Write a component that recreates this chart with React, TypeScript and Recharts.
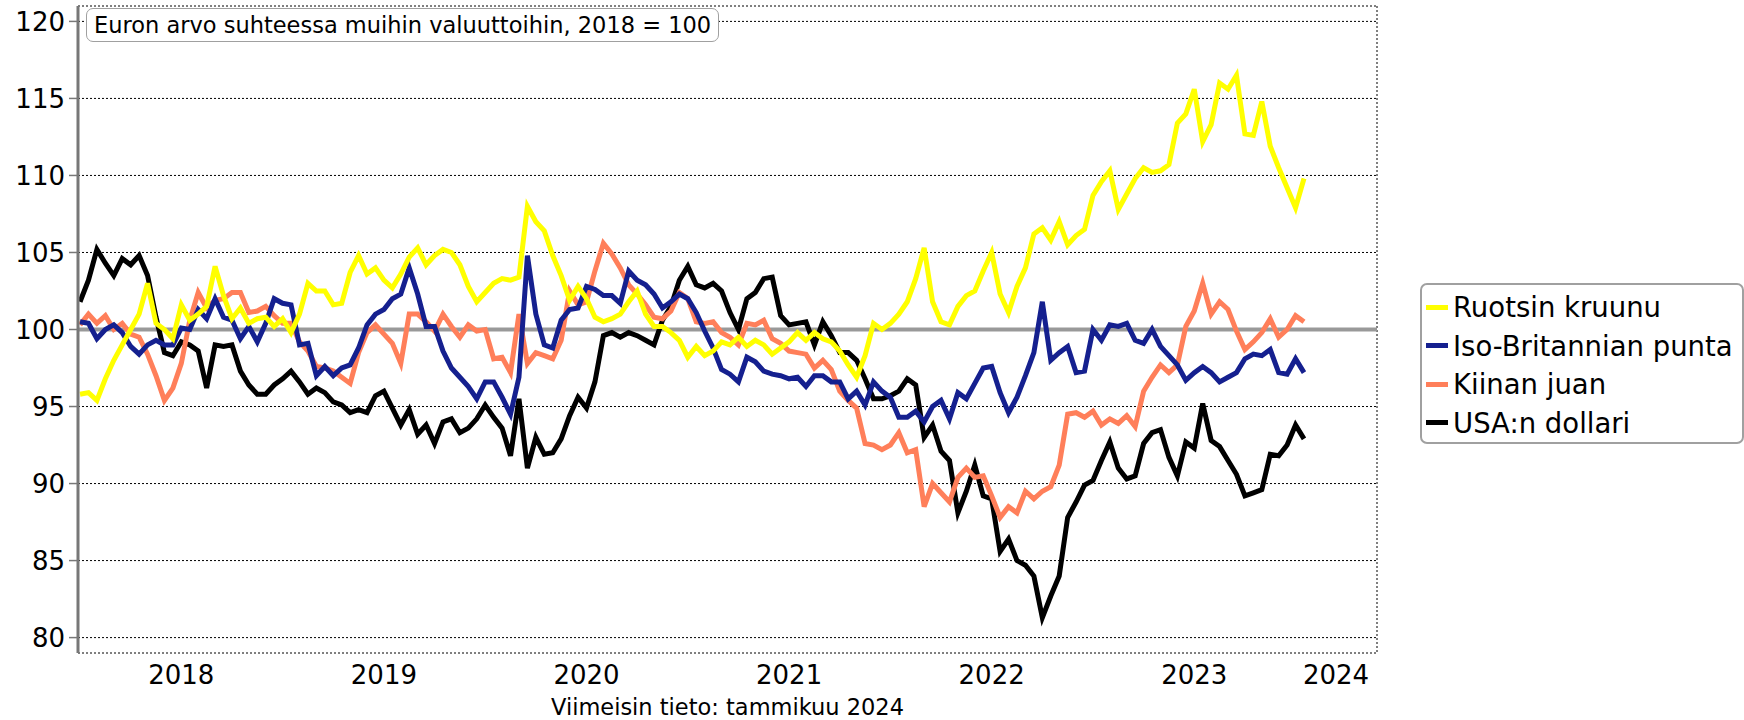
import { LineChart, Line, XAxis, YAxis, CartesianGrid, ReferenceLine, Legend } from "recharts";

const FONT = "'DejaVu Sans', Verdana, sans-serif";

// havainnot puolen kuukauden välein, tammikuu 2018 – tammikuu 2024
const periods = Array.from({ length: 146 }, (_, i) => 2018 + i / 24);

const sek = [
  95.8, 95.9, 95.4, 96.8, 98.0, 99.0, 100.0, 101.0, 103.0, 100.4, 100.0, 99.4, 101.6, 100.6, 101.0, 101.5, 104.1, 102.2, 100.7, 101.4,
  100.4, 100.7, 100.8, 100.2, 100.7, 99.8, 101.0, 103.0, 102.5, 102.5, 101.6, 101.7, 103.7, 104.8, 103.6, 104.0, 103.2, 102.7, 103.6, 104.7,
  105.3, 104.2, 104.8, 105.2, 105.0, 104.2, 102.8, 101.8, 102.4, 103.0, 103.3, 103.2, 103.4, 108.0, 107.0, 106.4, 104.8, 103.5, 101.9, 102.8,
  102.0, 100.8, 100.5, 100.7, 101.0, 101.8, 102.5, 101.0, 100.2, 100.2, 99.8, 99.3, 98.2, 98.9, 98.3, 98.6, 99.2, 99.0, 99.5,
  98.9, 99.3, 99.0, 98.4, 98.8, 99.2, 99.8, 99.3, 99.8, 99.4, 99.2, 98.6, 97.7, 96.9, 98.3, 100.4, 100.0, 100.4, 101.0, 101.8,
  103.3, 105.3, 101.8, 100.5, 100.3, 101.5, 102.2, 102.5, 103.8, 105.0, 102.3, 101.1, 102.8, 104.0, 106.2, 106.6, 105.8, 107.0, 105.5,
  106.1, 106.5, 108.7, 109.6, 110.3, 107.8, 108.8, 109.8, 110.5, 110.2, 110.3, 110.7, 113.4, 114.0, 115.6, 112.2, 113.3, 116.0, 115.6, 116.5,
  112.7, 112.6, 114.8, 111.9, 110.5, 109.2, 107.9, 109.8,
];

const gbp = [
  100.5, 100.4, 99.4, 100.0, 100.3, 99.8, 98.9, 98.4, 99.0, 99.3, 99.0, 99.0, 100.1, 100.0, 101.3, 100.7, 102.0, 100.8, 100.6, 99.4,
  100.2, 99.2, 100.4, 102.0, 101.7, 101.6, 99.0, 99.1, 97.0, 97.6, 97.0, 97.5, 97.7, 98.8, 100.3, 101.0, 101.3, 102.0, 102.3, 104.0,
  102.3, 100.2, 100.2, 98.6, 97.5, 96.9, 96.3, 95.5, 96.6, 96.6, 95.6, 94.5, 96.9, 104.8, 101.0, 99.0, 98.8, 100.6, 101.3, 101.4,
  102.8, 102.6, 102.2, 102.2, 101.7, 103.8, 103.2, 102.9, 102.3, 101.4, 101.8, 102.3, 102.0, 101.1, 99.9, 98.8, 97.4, 97.1, 96.6,
  98.2, 97.9, 97.3, 97.1, 97.0, 96.8, 96.9, 96.3, 97.0, 97.0, 96.6, 96.6, 95.5, 96.0, 95.1, 96.6, 96.0, 95.6, 94.3, 94.3,
  94.7, 94.0, 95.0, 95.4, 94.2, 95.9, 95.5, 96.5, 97.5, 97.6, 95.9, 94.6, 95.6, 97.0, 98.5, 101.8, 98.0, 98.5, 98.9,
  97.2, 97.3, 100.0, 99.3, 100.3, 100.2, 100.4, 99.3, 99.1, 100.0, 98.9, 98.3, 97.7, 96.7, 97.2, 97.6, 97.2, 96.6, 96.9, 97.2,
  98.1, 98.4, 98.3, 98.7, 97.2, 97.1, 98.1, 97.2,
];

const cny = [
  100.3, 101.0, 100.4, 100.9, 100.0, 100.4, 99.7, 99.5, 98.4, 97.0, 95.4, 96.2, 97.8, 100.6, 102.4, 101.4, 101.9, 102.0, 102.4, 102.4,
  101.1, 101.2, 101.5, 100.9, 100.4, 100.4, 99.2, 98.6, 97.6, 97.5, 97.3, 96.9, 96.5, 98.5, 99.8, 100.3, 99.7, 99.1, 97.8, 101.0,
  101.0, 100.5, 99.9, 101.0, 100.2, 99.5, 100.3, 99.9, 100.0, 98.1, 98.2, 97.2, 101.0, 97.8, 98.5, 98.3, 98.1, 99.3, 102.5, 101.6,
  101.8, 103.8, 105.6, 104.9, 104.0, 102.9, 102.3, 101.6, 100.8, 100.7, 101.2, 102.4, 102.0, 100.5, 100.4, 100.5, 99.8, 99.5, 99.0,
  100.4, 100.3, 100.6, 99.4, 99.1, 98.6, 98.5, 98.4, 97.5, 98.0, 97.4, 96.0, 95.4, 94.9, 92.6, 92.5, 92.2, 92.5, 93.3, 92.0,
  92.2, 88.5, 90.0, 89.4, 88.8, 90.4, 91.0, 90.4, 90.5, 89.2, 87.8, 88.5, 88.1, 89.5, 89.0, 89.5, 89.8, 91.2, 94.5,
  94.6, 94.3, 94.7, 93.8, 94.2, 93.9, 94.4, 93.7, 96.0, 96.9, 97.7, 97.2, 97.7, 100.2, 101.2, 103.0, 101.0, 101.8, 101.3, 99.9,
  98.7, 99.2, 99.8, 100.7, 99.5, 100.0, 100.9, 100.5,
];

const usd = [
  101.8, 103.2, 105.2, 104.3, 103.5, 104.6, 104.2, 104.8, 103.5, 100.8, 98.5, 98.3, 99.2, 99.0, 98.6, 96.2, 99.0, 98.9, 99.0, 97.3,
  96.4, 95.8, 95.8, 96.4, 96.8, 97.3, 96.6, 95.8, 96.2, 95.9, 95.3, 95.1, 94.6, 94.8, 94.6, 95.7, 96.0, 94.9, 93.8, 94.8,
  93.2, 93.8, 92.6, 94.0, 94.2, 93.3, 93.6, 94.2, 95.1, 94.3, 93.6, 91.8, 95.5, 91.0, 93.0, 91.9, 92.0, 92.9, 94.4, 95.6,
  94.9, 96.6, 99.6, 99.8, 99.5, 99.8, 99.6, 99.3, 99.0, 100.6, 101.5, 103.2, 104.1, 102.9, 102.7, 103.0, 102.5, 101.1, 100.0,
  102.0, 102.4, 103.3, 103.4, 100.9, 100.3, 100.4, 100.5, 99.0, 100.5, 99.6, 98.5, 98.5, 98.0, 96.8, 95.5, 95.5, 95.7, 96.0, 96.8,
  96.4, 93.0, 93.8, 92.1, 91.5, 88.1, 89.5, 91.2, 89.2, 89.0, 85.6, 86.4, 85.0, 84.7, 84.0, 81.3, 82.7, 84.0, 87.8,
  88.8, 89.9, 90.2, 91.5, 92.7, 91.0, 90.3, 90.5, 92.6, 93.3, 93.5, 91.7, 90.5, 92.7, 92.3, 95.2, 92.8, 92.4, 91.5, 90.6,
  89.2, 89.4, 89.6, 91.9, 91.8, 92.5, 93.8, 92.9,
];

const yearTicks = [2018, 2019, 2020, 2021, 2022, 2023, 2024];
const yearLabelAt = [2018.5, 2019.5, 2020.5, 2021.5, 2022.5, 2023.5, 2024.2];
const valueTicks = [80, 85, 90, 95, 100, 105, 110, 115, 120];

const series = [
  { key: "sek", name: "Ruotsin kruunu", color: "#ffff00" },
  { key: "gbp", name: "Iso-Britannian punta", color: "#15208f" },
  { key: "cny", name: "Kiinan juan", color: "#ff7f5a" },
  { key: "usd", name: "USA:n dollari", color: "#000000" },
];

const data = periods.map((t, i) => ({ t, sek: sek[i], gbp: gbp[i], cny: cny[i], usd: usd[i] }));

const X_DOMAIN = [2017.99, 2024.402];
const AXIS_GREY = "#777777";

function LegendBox() {
  return (
    <div
      style={{
        boxSizing: "border-box",
        width: 324,
        height: 161,
        border: "2px solid #a0a0a0",
        borderRadius: 7,
        background: "#fff",
        padding: "3px 0 0 4px",
        fontFamily: FONT,
        fontSize: 27.5,
        color: "#000",
      }}
    >
      {series.map((s) => (
        <div key={s.key} style={{ display: "flex", alignItems: "center", height: 38.5 }}>
          <span style={{ display: "inline-block", width: 22, height: 5, background: s.color, marginRight: 5 }} />
          <span>{s.name}</span>
        </div>
      ))}
    </div>
  );
}

export default function App() {
  return (
    <div style={{ position: "absolute", left: 0, top: 0, width: 1744, height: 720, background: "#fff", overflow: "hidden" }}>
      <LineChart width={1744} height={720} data={data} margin={{ top: 6, right: 367, bottom: 27, left: 0 }}>
        <CartesianGrid stroke="#000" strokeDasharray="2 2" strokeWidth={1} />
        <XAxis
          type="number"
          dataKey="t"
          domain={X_DOMAIN}
          ticks={yearTicks}
          allowDataOverflow
          tick={false}
          tickSize={7}
          tickLine={{ stroke: AXIS_GREY, strokeWidth: 1.5 }}
          axisLine={{ stroke: AXIS_GREY, strokeWidth: 4 }}
          height={0}
        />
        <XAxis
          xAxisId="lab"
          type="number"
          dataKey="t"
          domain={X_DOMAIN}
          ticks={yearLabelAt}
          interval={0}
          allowDataOverflow
          axisLine={false}
          tickLine={false}
          tickMargin={7}
          height={40}
          tickFormatter={(v: number) => String(Math.floor(v))}
          tick={{ fill: "#000", fontSize: 26, fontFamily: FONT }}
        />
        <YAxis
          domain={[79, 121]}
          ticks={valueTicks}
          interval={0}
          allowDataOverflow
          width={78}
          tickSize={9}
          tickMargin={4}
          tickLine={{ stroke: AXIS_GREY, strokeWidth: 1.5 }}
          axisLine={{ stroke: AXIS_GREY, strokeWidth: 3 }}
          tick={{ fill: "#000", fontSize: 26, fontFamily: FONT }}
        />
        <ReferenceLine y={100} stroke="#999999" strokeWidth={4} />
        {[...series].reverse().map((s) => (
          <Line
            key={s.key}
            type="linear"
            dataKey={s.key}
            name={s.name}
            stroke={s.color}
            strokeWidth={5}
            dot={false}
            isAnimationActive={false}
          />
        ))}
        <Legend
          layout="vertical"
          align="center"
          verticalAlign="middle"
          wrapperStyle={{ left: 1420, top: 283, width: 324, height: 161 }}
          content={() => <LegendBox />}
        />
      </LineChart>

      <div
        style={{
          position: "absolute",
          left: 86,
          top: 8,
          border: "1.5px solid #a0a0a0",
          borderRadius: 7,
          background: "#fff",
          padding: "3px 7px",
          fontFamily: FONT,
          fontSize: 22.5,
          color: "#000",
          whiteSpace: "nowrap",
        }}
      >
        Euron arvo suhteessa muihin valuuttoihin, 2018 = 100
      </div>

      <div
        style={{
          position: "absolute",
          left: 78,
          width: 1299,
          top: 694,
          textAlign: "center",
          fontFamily: FONT,
          fontSize: 22.5,
          color: "#000",
        }}
      >
        Viimeisin tieto: tammikuu 2024
      </div>
    </div>
  );
}
